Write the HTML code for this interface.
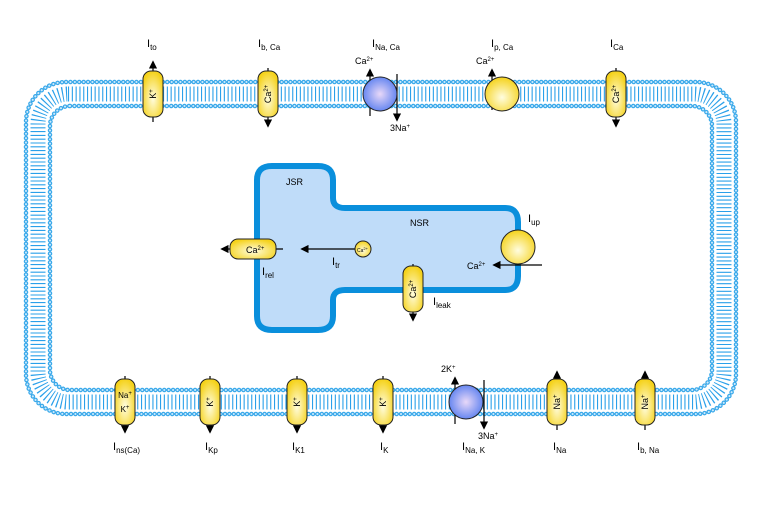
<!DOCTYPE html>
<html><head><meta charset="utf-8"><style>
html,body{margin:0;padding:0;background:#fff}
svg{display:block;font-family:"Liberation Sans",sans-serif}
</style></head><body>
<svg width="781" height="514" viewBox="0 0 781 514" xmlns="http://www.w3.org/2000/svg">
<defs>
<radialGradient id="yg" cx="50%" cy="60%" r="60%"><stop offset="0" stop-color="#fffde0"/><stop offset="1" stop-color="#f5d21a"/></radialGradient>
<radialGradient id="bg" cx="50%" cy="50%" r="55%"><stop offset="0" stop-color="#e8d8f8"/><stop offset="1" stop-color="#5a7ff0"/></radialGradient>
<marker id="ah" viewBox="0 0 10 10" refX="8" refY="5" markerWidth="7" markerHeight="7" orient="auto-start-reverse"><path d="M0,0L10,5L0,10z" fill="#000"/></marker>
</defs>
<!-- membrane -->
<rect x="38" y="94" width="686" height="308" rx="30" fill="none" stroke="#2aa0ea" stroke-width="15" stroke-dasharray="1.1 2.7"/>
<rect x="26" y="82" width="710" height="332" rx="40" fill="none" stroke="#3aa9ea" stroke-width="4.5" stroke-dasharray="0.1 4.3" stroke-linecap="round"/>
<rect x="26" y="82" width="710" height="332" rx="40" fill="none" stroke="#cfeafc" stroke-width="2" stroke-dasharray="0.1 4.3" stroke-linecap="round"/>
<rect x="50" y="106" width="662" height="284" rx="20" fill="none" stroke="#3aa9ea" stroke-width="4.5" stroke-dasharray="0.1 4.3" stroke-linecap="round"/>
<rect x="50" y="106" width="662" height="284" rx="20" fill="none" stroke="#cfeafc" stroke-width="2" stroke-dasharray="0.1 4.3" stroke-linecap="round"/>

<!-- SR -->
<path d="M272,166 H318 Q333,166 333,180 V198 Q333,208 345,208 H505 Q518,208 518,222 V276 Q518,290 505,290 H345 Q333,290 333,300 V316 Q333,330 318,330 H272 Q257,330 257,316 V180 Q257,166 272,166Z" fill="#bfdcf9" stroke="#0a8fdc" stroke-width="6"/>
<text x="286" y="185" font-size="9">JSR</text>
<text x="410" y="226" font-size="9">NSR</text>

<g stroke="#000" stroke-width="1.2" fill="none">
<line x1="153" y1="122" x2="153" y2="62" marker-end="url(#ah)"/>
<line x1="268" y1="68" x2="268" y2="126" marker-end="url(#ah)"/>
<line x1="616" y1="68" x2="616" y2="126" marker-end="url(#ah)"/>
<line x1="370" y1="116" x2="370" y2="70" marker-end="url(#ah)"/>
<line x1="397" y1="74" x2="397" y2="120" marker-end="url(#ah)"/>
<line x1="492" y1="110" x2="492" y2="70" marker-end="url(#ah)"/>
<line x1="125" y1="376" x2="125" y2="432" marker-end="url(#ah)"/>
<line x1="210" y1="376" x2="210" y2="432" marker-end="url(#ah)"/>
<line x1="297" y1="376" x2="297" y2="432" marker-end="url(#ah)"/>
<line x1="383" y1="376" x2="383" y2="432" marker-end="url(#ah)"/>
<line x1="557" y1="430" x2="557" y2="372" marker-end="url(#ah)"/>
<line x1="645" y1="430" x2="645" y2="372" marker-end="url(#ah)"/>
<line x1="455" y1="424" x2="455" y2="378" marker-end="url(#ah)"/>
<line x1="484" y1="380" x2="484" y2="428" marker-end="url(#ah)"/>
<line x1="283" y1="249" x2="222" y2="249" marker-end="url(#ah)"/>
<line x1="355" y1="249" x2="302" y2="249" marker-end="url(#ah)"/>
<line x1="542" y1="265" x2="494" y2="265" marker-end="url(#ah)"/>
<line x1="413" y1="264" x2="413" y2="320" marker-end="url(#ah)"/>
</g>

<g stroke="#222" stroke-width="1" fill="url(#yg)">
<rect x="143" y="71" width="20" height="46" rx="8"/>
<rect x="258" y="71" width="20" height="46" rx="8"/>
<rect x="606" y="71" width="20" height="46" rx="8"/>
<circle cx="502" cy="94" r="17"/>
<rect x="115" y="379" width="20" height="46" rx="8"/>
<rect x="200" y="379" width="20" height="46" rx="8"/>
<rect x="287" y="379" width="20" height="46" rx="8"/>
<rect x="373" y="379" width="20" height="46" rx="8"/>
<rect x="547" y="379" width="20" height="46" rx="8"/>
<rect x="635" y="379" width="20" height="46" rx="8"/>
<rect x="230" y="239" width="46" height="20" rx="8"/>
<rect x="403" y="266" width="20" height="46" rx="8"/>
<circle cx="518" cy="247" r="17"/>
<circle cx="363" cy="249" r="8"/>
</g>
<g stroke="#222" stroke-width="1" fill="url(#bg)">
<circle cx="380" cy="94" r="17"/>
<circle cx="466" cy="402" r="17"/>
</g>

<g font-size="9" fill="#000">
<text transform="translate(156,94) rotate(-90)" text-anchor="middle">K<tspan dy="-3" font-size="6">+</tspan></text>
<text transform="translate(271,94) rotate(-90)" text-anchor="middle">Ca<tspan dy="-3" font-size="6">2+</tspan></text>
<text transform="translate(619,94) rotate(-90)" text-anchor="middle">Ca<tspan dy="-3" font-size="6">2+</tspan></text>
<text transform="translate(416,289) rotate(-90)" text-anchor="middle">Ca<tspan dy="-3" font-size="6">2+</tspan></text>
<text x="125" y="398" text-anchor="middle" font-size="8">Na<tspan dy="-3" font-size="6">+</tspan></text>
<text x="125" y="412" text-anchor="middle" font-size="8">K<tspan dy="-3" font-size="6">+</tspan></text>
<text transform="translate(213,402) rotate(-90)" text-anchor="middle">K<tspan dy="-3" font-size="6">+</tspan></text>
<text transform="translate(300,402) rotate(-90)" text-anchor="middle">K<tspan dy="-3" font-size="6">+</tspan></text>
<text transform="translate(386,402) rotate(-90)" text-anchor="middle">K<tspan dy="-3" font-size="6">+</tspan></text>
<text transform="translate(560,402) rotate(-90)" text-anchor="middle">Na<tspan dy="-3" font-size="6">+</tspan></text>
<text transform="translate(648,402) rotate(-90)" text-anchor="middle">Na<tspan dy="-3" font-size="6">+</tspan></text>
<text x="246" y="253" font-size="9">Ca<tspan dy="-3" font-size="6">2+</tspan></text>
<text x="357" y="252" font-size="5">Ca<tspan dy="-2" font-size="4">2+</tspan></text>
<text x="355" y="64">Ca<tspan dy="-3" font-size="6">2+</tspan></text>
<text x="476" y="64">Ca<tspan dy="-3" font-size="6">2+</tspan></text>
<text x="390" y="131">3Na<tspan dy="-3" font-size="6">+</tspan></text>
<text x="441" y="372">2K<tspan dy="-3" font-size="6">+</tspan></text>
<text x="478" y="439">3Na<tspan dy="-3" font-size="6">+</tspan></text>
<text x="467" y="269">Ca<tspan dy="-3" font-size="6">2+</tspan></text>
</g>
<g font-size="11" fill="#000">
<text x="147" y="47">I<tspan font-size="8" dy="3">to</tspan></text>
<text x="258" y="47">I<tspan font-size="8" dy="3">b, Ca</tspan></text>
<text x="372" y="47">I<tspan font-size="8" dy="3">Na, Ca</tspan></text>
<text x="491" y="47">I<tspan font-size="8" dy="3">p, Ca</tspan></text>
<text x="610" y="47">I<tspan font-size="8" dy="3">Ca</tspan></text>
<text x="113" y="450">I<tspan font-size="8" dy="3">ns(Ca)</tspan></text>
<text x="205" y="450">I<tspan font-size="8" dy="3">Kp</tspan></text>
<text x="292" y="450">I<tspan font-size="8" dy="3">K1</tspan></text>
<text x="380" y="450">I<tspan font-size="8" dy="3">K</tspan></text>
<text x="462" y="450">I<tspan font-size="8" dy="3">Na, K</tspan></text>
<text x="553" y="450">I<tspan font-size="8" dy="3">Na</tspan></text>
<text x="637" y="450">I<tspan font-size="8" dy="3">b, Na</tspan></text>
<text x="528" y="222">I<tspan font-size="8" dy="3">up</tspan></text>
<text x="332" y="265">I<tspan font-size="8" dy="3">tr</tspan></text>
<text x="262" y="275">I<tspan font-size="8" dy="3">rel</tspan></text>
<text x="433" y="305">I<tspan font-size="8" dy="3">leak</tspan></text>
</g>
</svg>
</body></html>
